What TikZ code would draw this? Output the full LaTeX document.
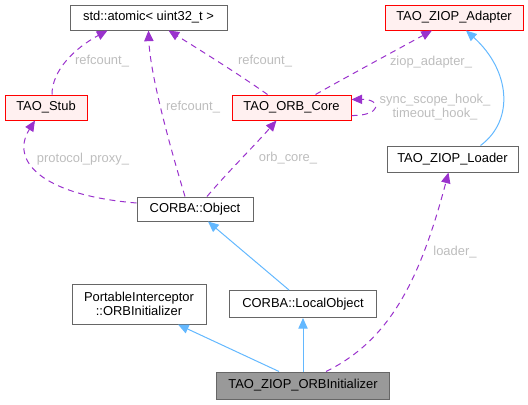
\documentclass[tikz,border=0pt]{standalone}
\usepackage{fontspec}
\setmainfont{Liberation Sans}
\usetikzlibrary{calc,arrows.meta}
\definecolor{usecol}{HTML}{9A32CD}
\definecolor{inhcol}{HTML}{63B8FF}
\definecolor{labcol}{HTML}{BDBDBD}
\definecolor{boxcol}{HTML}{666666}
\definecolor{redfill}{HTML}{FFF0F0}

\begin{document}
\begin{tikzpicture}[x=0.75pt,y=-0.75pt,font=\fontsize{9.7}{11}\selectfont,
  cls/.style 2 args={draw=boxcol,fill=white,line width=0.75pt,inner sep=0pt,
    minimum width=#1*0.75pt,minimum height=#2*0.75pt,align=center},
  redcls/.style={draw=red,fill=redfill},
  usesedge/.style={usecol,line width=0.75pt,dash pattern=on 4.5pt off 3.5pt,
    -{Triangle[length=8pt,width=7pt]}},
  inhedge/.style={inhcol,line width=0.75pt,-{Triangle[length=8pt,width=7pt]}},
  lab/.style={labcol}]
\useasboundingbox (0,0) rectangle (528,404);

% classes
\node[cls={157}{25}] (atomic) at (148.5,17.5) {std::atomic< uint32\_t >};
\node[cls={138}{25},redcls] (adapter) at (454,17.5) {TAO\_ZIOP\_Adapter};
\node[cls={82}{25},redcls] (stub) at (46,107.5) {TAO\_Stub};
\node[cls={119}{25},redcls] (core) at (291.5,107.5) {TAO\_ORB\_Core};
\node[cls={131}{26}] (loader) at (452.5,159) {TAO\_ZIOP\_Loader};
\node[cls={116}{24}] (object) at (195,209) {CORBA::Object};
\node[cls={134}{40}] (pi) at (139,304) {PortableInterceptor\\::ORBInitializer};
\node[cls={147}{27}] (local) at (303,304) {CORBA::LocalObject};
\node[cls={173}{27},fill=black!40] (init) at (303,385.5) {TAO\_ZIOP\_ORBInitializer};

% members
\draw[usesedge] ($(stub.north)+(6,0)$) .. controls (52,70) and (75,48) .. ($(atomic.south)+(-41,0)$);
\path (102,61) node[lab] (l1) {refcount\_};
\draw[usesedge] ($(object.north)+(-10,0)$) .. controls (165,130) and (150,70) .. ($(atomic.south)+(0,0)$);
\path (193,107) node[lab] (l2) {refcount\_};
\draw[usesedge] ($(core.north)+(-24,0)$) .. controls (240,75) and (200,50) .. ($(atomic.south)+(20,0)$);
\path (265,61) node[lab] (l3) {refcount\_};
\draw[usesedge] ($(core.north)+(24,0)$) .. controls (350,75) and (400,48) .. ($(adapter.south)+(-22,0)$);
\path (431,62) node[lab] (l4) {ziop\_adapter\_};
\draw[usesedge] ($(core.east)+(0,8)$) .. controls (382,116) and (382,99) .. ($(core.east)+(0,-8)$);
\path (435,107) node[lab,align=center] (l5) {sync\_scope\_hook\_\\timeout\_hook\_};
\draw[usesedge] ($(object.west)+(0,-6)$) .. controls (40,195) and (10,160) .. ($(stub.south)+(-11,0)$);
\path (83,159) node[lab] (l6) {protocol\_proxy\_};
\draw[usesedge] ($(object.north)+(12,0)$) .. controls (225,175) and (255,145) .. ($(core.south)+(-15,0)$);
\path (288,158) node[lab] (l7) {orb\_core\_};
\draw[usesedge] ($(init.north)+(23,0)$) .. controls (390,340) and (420,280) .. ($(loader.south)+(-4,0)$);
\path (455,252) node[lab] (l8) {loader\_};

% bases
\draw[inhedge] ($(loader.north)+(28,0)$) .. controls (515,120) and (510,70) .. ($(adapter.south)+(12,0)$);
\draw[inhedge] ($(local.north)+(-14,0)$) -- ($(object.south)+(13,0)$);
\draw[inhedge] ($(init.north)+(-24,0)$) -- ($(pi.south)+(39,0)$);
\draw[inhedge] (init.north) -- (local.south);
\end{tikzpicture}
\end{document}
